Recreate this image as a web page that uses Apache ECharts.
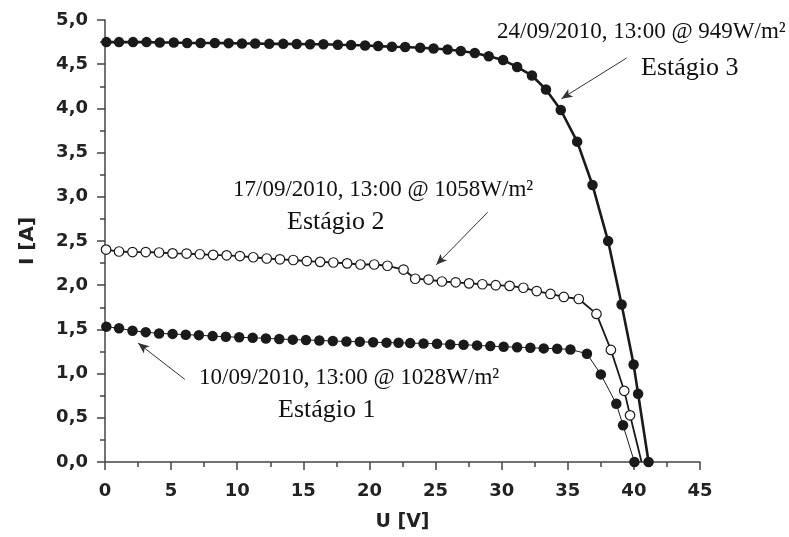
<!DOCTYPE html>
<html>
<head>
<meta charset="utf-8">
<script src="https://cdn.jsdelivr.net/npm/echarts@6/dist/echarts.min.js"></script>
<style>
html,body{margin:0;padding:0;background:#fff;}
#chart{width:789px;height:537px;}
</style>
</head>
<body>
<div id="chart"></div>
<script>
// Estágio 3 — 24/09/2010 (filled, thick line)
var stage3V = [0.1,1.06,2.12,3.14,4.14,5.2,6.21,7.23,8.31,9.35,10.36,11.36,12.42,13.48,14.5,15.51,16.52,17.61,18.61,19.67,20.66,21.7,22.7,23.84,24.85,25.91,26.91,27.97,29.02,30.11,31.17,32.29,33.35,34.47,35.71,36.87,38.05,39.07,39.98,40.32,41.11];
var stage3I = [4.75,4.75,4.75,4.75,4.745,4.745,4.74,4.74,4.74,4.738,4.735,4.735,4.73,4.73,4.728,4.726,4.725,4.72,4.718,4.712,4.705,4.697,4.695,4.686,4.678,4.667,4.649,4.627,4.59,4.547,4.469,4.372,4.214,3.982,3.624,3.133,2.499,1.782,1.102,0.771,0];
// Estágio 2 — 17/09/2010 (open circles)
var stage2V = [0.08,1.06,2.08,3.08,4.09,5.11,6.17,7.17,8.18,9.2,10.2,11.21,12.23,13.23,14.24,15.26,16.27,17.27,18.31,19.32,20.36,21.36,22.58,23.46,24.47,25.48,26.52,27.53,28.54,29.55,30.6,31.64,32.65,33.69,34.7,35.83,37.17,38.26,39.27,39.71,40.58];
var stage2I = [2.403,2.381,2.375,2.375,2.37,2.36,2.358,2.35,2.343,2.338,2.33,2.316,2.302,2.293,2.285,2.273,2.264,2.257,2.247,2.234,2.234,2.22,2.177,2.073,2.064,2.042,2.033,2.021,2.011,2.0,1.992,1.971,1.934,1.901,1.867,1.844,1.675,1.268,0.805,0.528,0];
// Estágio 1 — 10/09/2010 (filled, thin line)
var stage1V = [0.1,1.06,2.08,3.08,4.09,5.11,6.11,7.1,8.14,9.14,10.15,11.17,12.17,13.18,14.2,15.2,16.21,17.23,18.26,19.27,20.28,21.29,22.2,23.08,24.09,25.11,26.11,27.12,28.14,29.14,30.15,31.17,32.17,33.18,34.2,35.2,36.45,37.5,38.67,39.18,40.04];
var stage1I = [1.531,1.513,1.485,1.469,1.454,1.449,1.44,1.435,1.424,1.417,1.411,1.406,1.398,1.392,1.384,1.381,1.375,1.369,1.364,1.36,1.355,1.35,1.349,1.345,1.341,1.338,1.33,1.327,1.319,1.311,1.304,1.299,1.293,1.285,1.281,1.273,1.225,0.991,0.658,0.415,0];

var xTitle = 'U [V]';
var yTitle = 'I [A]';
var label3a = '24/09/2010, 13:00 @ 949W/m²';
var label3b = 'Estágio 3';
var label2a = '17/09/2010, 13:00 @ 1058W/m²';
var label2b = 'Estágio 2';
var label1a = '10/09/2010, 13:00 @ 1028W/m²';
var label1b = 'Estágio 1';

// arrows (data coordinates: [U, I])
var arrow3 = [[39.45, 4.57], [34.52, 4.11]];
var arrow2 = [[28.94, 2.825], [25.05, 2.23]];
var arrow1 = [[6.04, 0.934], [2.5, 1.345]];

function zip(a, b) { return a.map(function (v, i) { return [v, b[i]]; }); }

var ink = '#1a1a1a';
var axisColor = '#444';
var serif = '"Liberation Serif", "Times New Roman", serif';
var sans = '"DejaVu Sans", sans-serif';

function arrowLine(a) {
  return {
    silent: true,
    symbol: ['none', 'arrow'],
    symbolSize: [7, 11],
    label: { show: false },
    lineStyle: { color: '#333', width: 1, type: 'solid' },
    emphasis: { disabled: true },
    data: [[{ coord: a[0] }, { coord: a[1] }]]
  };
}

var s2data = zip(stage2V, stage2I);
s2data[s2data.length - 1] = { value: s2data[s2data.length - 1], symbol: 'none' };

var chart = echarts.init(document.getElementById('chart'), null, { renderer: 'canvas' });
chart.setOption({
  animation: false,
  backgroundColor: '#fff',
  grid: { left: 105, right: 89, top: 20, bottom: 74, containLabel: false },
  xAxis: {
    type: 'value', min: 0, max: 45, interval: 5,
    name: xTitle, nameLocation: 'middle', nameGap: 51,
    nameTextStyle: { fontFamily: sans, fontWeight: 'bold', fontSize: 19, color: '#222' },
    axisLine: { show: true, onZero: false, lineStyle: { color: axisColor, width: 1.5 } },
    axisTick: { show: true, inside: false, length: 8, lineStyle: { color: axisColor, width: 1.5 } },
    minorTick: { show: true, splitNumber: 2, length: 5, lineStyle: { color: axisColor, width: 1.5 } },
    splitLine: { show: false },
    axisLabel: { margin: 20, fontFamily: sans, fontWeight: 'bold', fontSize: 18, color: '#222' }
  },
  yAxis: {
    type: 'value', min: 0, max: 5, interval: 0.5,
    name: yTitle, nameLocation: 'middle', nameGap: 67, nameRotate: 90,
    nameTextStyle: { fontFamily: sans, fontWeight: 'bold', fontSize: 20, color: '#222' },
    axisLine: { show: true, onZero: false, lineStyle: { color: axisColor, width: 1.5 } },
    axisTick: { show: true, inside: false, length: 8, lineStyle: { color: axisColor, width: 1.5 } },
    minorTick: { show: true, splitNumber: 2, length: 5, lineStyle: { color: axisColor, width: 1.5 } },
    splitLine: { show: false },
    axisLabel: {
      margin: 17, fontFamily: sans, fontWeight: 'bold', fontSize: 18, color: '#222',
      formatter: function (v) { return v.toFixed(1).replace('.', ','); }
    }
  },
  series: [
    {
      name: label1b, type: 'line', data: zip(stage1V, stage1I), clip: false, z: 2,
      symbol: 'circle', symbolSize: 10.5, showAllSymbol: true,
      lineStyle: { color: ink, width: 1 },
      itemStyle: { color: ink, borderWidth: 0 },
      markLine: arrowLine(arrow1)
    },
    {
      name: label2b, type: 'line', data: s2data, clip: false, z: 3,
      symbol: 'circle', symbolSize: 9.5, showAllSymbol: true,
      lineStyle: { color: ink, width: 1.8 },
      itemStyle: { color: '#fff', borderColor: ink, borderWidth: 1.2 },
      markLine: arrowLine(arrow2)
    },
    {
      name: label3b, type: 'line', data: zip(stage3V, stage3I), clip: false, z: 4,
      symbol: 'circle', symbolSize: 10.5, showAllSymbol: true,
      lineStyle: { color: ink, width: 2.6 },
      itemStyle: { color: ink, borderWidth: 0 },
      markLine: arrowLine(arrow3)
    }
  ],
  graphic: [
    { type: 'text', left: 497, top: 20, style: { text: label3a, font: '23px ' + serif, fill: '#111' } },
    { type: 'text', left: 641, top: 55, style: { text: label3b, font: '26px ' + serif, fill: '#111' } },
    { type: 'text', left: 233, top: 178, style: { text: label2a, font: '23px ' + serif, fill: '#111' } },
    { type: 'text', left: 287, top: 209, style: { text: label2b, font: '26px ' + serif, fill: '#111' } },
    { type: 'text', left: 199, top: 366, style: { text: label1a, font: '23px ' + serif, fill: '#111' } },
    { type: 'text', left: 278, top: 397, style: { text: label1b, font: '26px ' + serif, fill: '#111' } }
  ]
});
</script>
</body>
</html>
